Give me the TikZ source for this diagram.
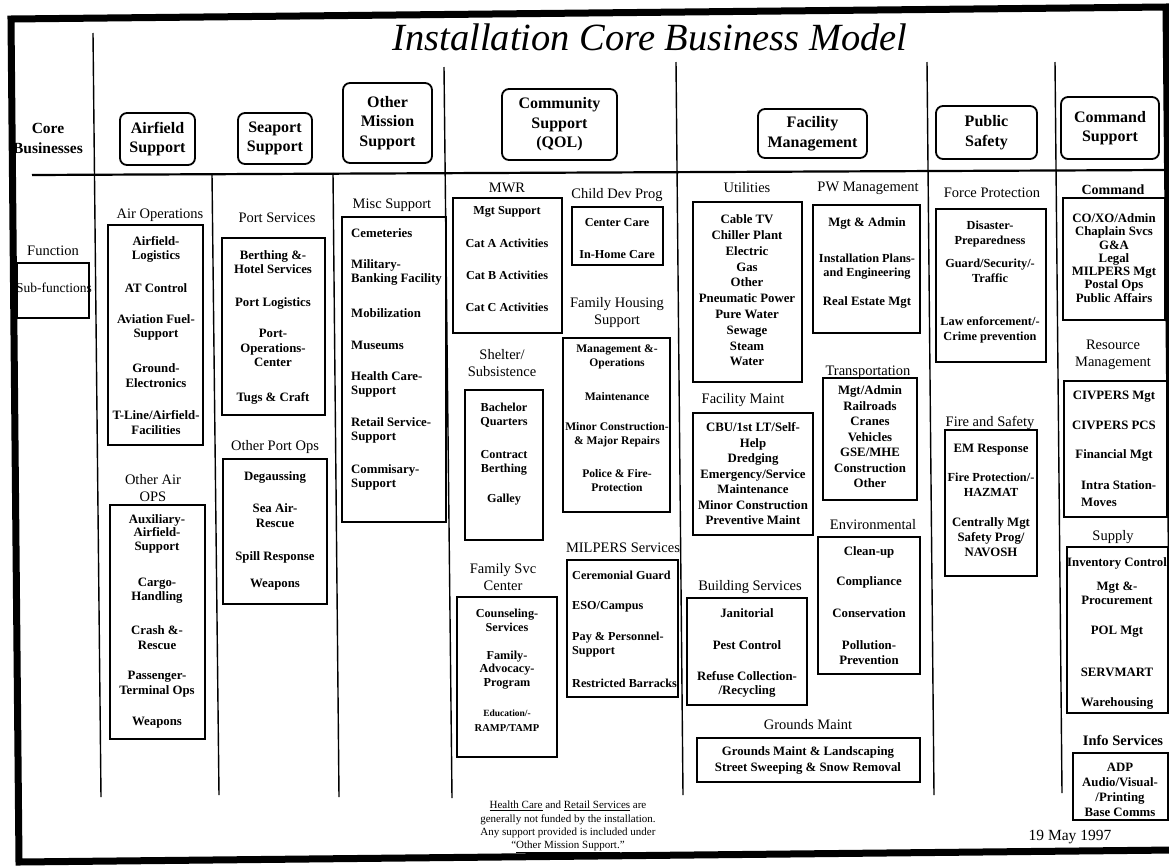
\documentclass[tikz,border=0pt]{standalone}
\usepackage{fontspec}
\setmainfont{Liberation Serif}
\usetikzlibrary{fit}
\newcommand{\myhf}{\fontsize{16}{19.5}\selectfont\bfseries}
\newcommand{\mylf}{\fontsize{14.5}{17}\selectfont}
\newcommand{\myif}{\fontsize{12.8}{14.5}\selectfont\bfseries}
\newcommand{\mysf}{\fontsize{12.2}{14}\selectfont\bfseries}
\tikzset{
  hdr/.style={draw, line width=1.8pt, rounded corners=7pt, font=\myhf, align=center, inner sep=0pt},
  sbox/.style={draw, line width=1.5pt, inner sep=0pt},
  lbl/.style={font=\mylf, align=center, inner sep=0pt},
  itm/.style={font=\myif, align=center, inner sep=0pt},
  itl/.style={font=\myif, align=left, inner sep=0pt, anchor=west},
  coll/.style={line width=1.4pt},
}
\begin{document}
\begin{tikzpicture}[x=1pt,y=-1pt]
\useasboundingbox (0,0) rectangle (1169,865);
\fill[white] (0,0) rectangle (1169,865);
% frame
\draw[line width=7pt, line join=miter] (11,19) -- (1166,7) -- (1174,850) -- (19,862) -- cycle;
% title
\node[font=\fontsize{38.5}{40}\selectfont\itshape, anchor=base, inner sep=0pt] (title) at (650,50) {Installation Core Business Model};
% grid lines
\draw[line width=2.2pt] (32,175) -- (1165,170);
\draw[coll] (93,33) -- (101,797);
\draw[coll] (212,174) -- (219,795);
\draw[coll] (333,173) -- (339,797);
\draw[coll] (444,67) -- (452,798);
\draw[coll] (676,62) -- (683,795);
\draw[coll] (927,62) -- (934,795);
\draw[coll] (1055,62) -- (1062,793);

% left column
\node[lbl, font=\fontsize{15.5}{20}\selectfont\bfseries] (core) at (48,138) {Core\\Businesses};
\node[lbl] (func) at (53,251) {Function};
\node[sbox, fit={(17,263) (89,318)}] (bsub) {};
\node[lbl, font=\fontsize{13.5}{15}\selectfont] (subf) at (54,288) {Sub-functions};

% Airfield
\node[hdr, minimum width=75pt, minimum height=52pt] (hair) at (157.5,139) {Airfield\\Support};
\node[lbl] (lairops) at (160,215) {Air Operations};
\node[sbox, fit={(108,225) (203,445)}] (bairops) {};
\node[itm] (a1) at (156,249.5) {Airfield-\\Logistics};
\node[itm] (a2) at (156,288) {AT Control};
\node[itm] (a3) at (156,327.5) {Aviation Fuel-\\Support};
\node[itm] (a4) at (156,375.5) {Ground-\\Electronics};
\node[itm] (a5) at (156,422.5) {T-Line/Airfield-\\Facilities};
\node[lbl] (loair) at (153,488) {Other Air\\OPS};
\node[sbox, fit={(110,505) (205,739)}] (boair) {};
\node[itm, font=\fontsize{12.8}{13.5}\selectfont\bfseries] (o1) at (157,533.5) {Auxiliary-\\Airfield-\\Support};
\node[itm] (o2) at (157,590.5) {Cargo-\\Handling};
\node[itm] (o3) at (157,637.5) {Crash \&-\\Rescue};
\node[itm] (o4) at (157,684) {Passenger-\\Terminal Ops};
\node[itm] (o5) at (157,723) {Weapons};

% Seaport
\node[hdr, minimum width=74pt, minimum height=51pt] (hsea) at (275,138.5) {Seaport\\Support};
\node[lbl] (lport) at (277,218) {Port Services};
\node[sbox, fit={(222,238) (325,415)}] (bport) {};
\node[itm] (p1) at (273,262) {Berthing \&-\\Hotel Services};
\node[itm] (p2) at (273,303) {Port Logistics};
\node[itm] (p3) at (273,348) {Port-\\Operations-\\Center};
\node[itm] (p4) at (273,398) {Tugs \& Craft};
\node[lbl] (loport) at (275,447) {Other Port Ops};
\node[sbox, fit={(223,459) (327,604)}] (boport) {};
\node[itm] (q1) at (275,477) {Degaussing};
\node[itm] (q2) at (275,515.5) {Sea Air-\\Rescue};
\node[itm] (q3) at (275,557) {Spill Response};
\node[itm] (q4) at (275,585) {Weapons};

% Other mission
\node[hdr, minimum width=89pt, minimum height=80pt] (hoth) at (387.5,123) {Other\\Mission\\Support};
\node[lbl] (lmisc) at (392,205) {Misc Support};
\node[sbox, fit={(342,217) (446,522)}] (bmisc) {};
\node[itl] (m1) at (351,233) {Cemeteries};
\node[itl] (m2) at (351,272.5) {Military-\\Banking Facility};
\node[itl] (m3) at (351,313) {Mobilization};
\node[itl] (m4) at (351,345) {Museums};
\node[itl] (m5) at (351,384.5) {Health Care-\\Support};
\node[itl] (m6) at (351,430.5) {Retail Service-\\Support};
\node[itl] (m7) at (351,477.5) {Commisary-\\Support};

% Community
\node[hdr, minimum width=115pt, minimum height=71pt] (hcom) at (559.5,124.5) {Community\\Support\\(QOL)};
\node[lbl] (lmwr) at (507,188) {MWR};
\node[sbox, fit={(453,198) (562,333)}] (bmwr) {};
\node[itm, font=\mysf] (w1) at (507,212) {Mgt Support};
\node[itm, font=\mysf] (w2) at (507,243) {Cat A Activities};
\node[itm, font=\mysf] (w3) at (507,275) {Cat B Activities};
\node[itm, font=\mysf] (w4) at (507,307) {Cat C Activities};
\node[lbl] (lchild) at (617,195) {Child Dev Prog};
\node[sbox, fit={(572,207) (663,265)}] (bchild) {};
\node[itm, font=\mysf] (c1) at (617,223) {Center Care};
\node[itm, font=\mysf] (c2) at (617,255) {In-Home Care};
\node[lbl] (lfam) at (617,313) {Family Housing\\Support};
\node[sbox, fit={(563,338) (670,512)}] (bfam) {};
\node[itm, font=\fontsize{11.6}{14}\selectfont\bfseries] (f1) at (617,356.5) {Management \&-\\Operations};
\node[itm, font=\fontsize{11.6}{14}\selectfont\bfseries] (f2) at (617,397) {Maintenance};
\node[itm, font=\fontsize{11.6}{14}\selectfont\bfseries] (f3) at (617,435) {Minor Construction-\\\& Major Repairs};
\node[itm, font=\fontsize{11.6}{14}\selectfont\bfseries] (f4) at (617,480.5) {Police \& Fire-\\Protection};
\node[lbl] (lshel) at (502,363) {Shelter/\\Subsistence};
\node[sbox, fit={(465,390) (543,540)}] (bshel) {};
\node[itm, font=\mysf] (s1) at (504,415) {Bachelor\\Quarters};
\node[itm, font=\mysf] (s2) at (504,462.5) {Contract\\Berthing};
\node[itm, font=\mysf] (s3) at (504,500) {Galley};
\node[lbl] (lfsvc) at (503,577) {Family Svc\\Center};
\node[sbox, fit={(457,597) (557,757)}] (bfsvc) {};
\node[itm, font=\mysf] (v1) at (507,620.5) {Counseling-\\Services};
\node[itm, font=\fontsize{12.2}{13.5}\selectfont\bfseries] (v2) at (507,670) {Family-\\Advocacy-\\Program};
\node[itm, font=\fontsize{10.5}{15}\selectfont\bfseries] (v3) at (507,720.5) {{\fontsize{9.5}{15}\selectfont Education/-}\\RAMP/TAMP};
\node[lbl] (lmil) at (623,548) {MILPERS Services};
\node[sbox, fit={(567,560) (678,697)}] (bmil) {};
\node[itl, font=\mysf] (x1) at (572,575) {Ceremonial Guard};
\node[itl, font=\mysf] (x2) at (572,607) {ESO/Campus};
\node[itl, font=\mysf] (x3) at (572,644.5) {Pay \& Personnel-\\Support};
\node[itl, font=\mysf] (x4) at (572,683) {Restricted Barracks};
\node[lbl, font=\fontsize{11}{13.3}\selectfont] (note) at (568,827) {\underline{Health Care} and \underline{Retail Services} are\\generally not funded by the installation.\\Any support provided is included under\\“\underline{Other Mission Support.}”};

% Facility
\node[hdr, minimum width=109pt, minimum height=49pt] (hfac) at (812.5,133.5) {Facility\\Management};
\node[lbl] (lutil) at (747,188) {Utilities};
\node[sbox, fit={(693,202) (802,382)}] (butil) {};
\node[itm, font=\fontsize{12.8}{15.8}\selectfont\bfseries] (u1) at (747,290.5) {Cable TV\\Chiller Plant\\Electric\\Gas\\Other\\Pneumatic Power\\Pure Water\\Sewage\\Steam\\Water};
\node[lbl] (lpw) at (868,188) {PW Management};
\node[sbox, fit={(813,205) (920,333)}] (bpw) {};
\node[itm] (pw1) at (867,223) {Mgt \& Admin};
\node[itm, font=\fontsize{12.3}{14}\selectfont\bfseries] (pw2) at (867,266.5) {Installation Plans-\\and Engineering};
\node[itm] (pw3) at (867,302) {Real Estate Mgt};
\node[lbl] (lfm) at (743,400) {Facility Maint};
\node[sbox, fit={(693,413) (813,535)}] (bfm) {};
\node[itm, font=\fontsize{12.8}{15.5}\selectfont\bfseries] (fm1) at (753,474) {CBU/1st LT/Self-\\Help\\Dredging\\Emergency/Service\\Maintenance\\Minor Construction\\Preventive Maint};
\node[lbl] (ltr) at (868,372) {Transportation};
\node[sbox, fit={(823,378) (917,500)}] (btr) {};
\node[itm, font=\fontsize{12.8}{15.5}\selectfont\bfseries] (tr1) at (870,437) {Mgt/Admin\\Railroads\\Cranes\\Vehicles\\GSE/MHE\\Construction\\Other};
\node[lbl] (lenv) at (873,525) {Environmental};
\node[sbox, fit={(818,537) (920,674)}] (benv) {};
\node[itm] (e1) at (869,552) {Clean-up};
\node[itm] (e2) at (869,582) {Compliance};
\node[itm] (e3) at (869,613) {Conservation};
\node[itm] (e4) at (869,652.5) {Pollution-\\Prevention};
\node[lbl] (lbld) at (750,587) {Building Services};
\node[sbox, fit={(687,598) (807,705)}] (bbld) {};
\node[itm] (b1) at (747,613) {Janitorial};
\node[itm] (b2) at (747,645) {Pest Control};
\node[itm] (b3) at (747,684.5) {Refuse Collection-\\/Recycling};
\node[lbl] (lgr) at (808,725) {Grounds Maint};
\node[sbox, fit={(697,738) (920,782)}] (bgr) {};
\node[itm, font=\fontsize{12.8}{16}\selectfont\bfseries] (g1) at (808,760) {Grounds Maint \& Landscaping\\Street Sweeping \& Snow Removal};

% Public safety
\node[hdr, minimum width=101pt, minimum height=53pt] (hpub) at (986.5,132.5) {Public\\Safety};
\node[lbl] (lforce) at (992,193) {Force Protection};
\node[sbox, fit={(936,209) (1046,362)}] (bforce) {};
\node[itm, font=\fontsize{12.3}{15}\selectfont\bfseries] (fp1) at (990,234.5) {Disaster-\\Preparedness};
\node[itm, font=\fontsize{12.3}{15}\selectfont\bfseries] (fp2) at (990,270.5) {Guard/Security/-\\Traffic};
\node[itm, font=\fontsize{12.3}{15}\selectfont\bfseries] (fp3) at (990,329.5) {Law enforcement/-\\Crime prevention};
\node[lbl] (lfire) at (990,423) {Fire and Safety};
\node[sbox, fit={(945,430) (1037,576)}] (bfire) {};
\node[itm] (fs1) at (991,450) {EM Response};
\node[itm, font=\fontsize{12.3}{15}\selectfont\bfseries] (fs2) at (991,484.5) {Fire Protection/-\\HAZMAT};
\node[itm, font=\fontsize{12.8}{15}\selectfont\bfseries] (fs3) at (991,537) {Centrally Mgt\\Safety Prog/\\NAVOSH};

% Command support
\node[hdr, minimum width=98pt, minimum height=62pt] (hcmd) at (1110,128) {Command\\Support};
\node[lbl, font=\fontsize{14}{17}\selectfont\bfseries] (lcmd) at (1113,190) {Command};
\node[sbox, fit={(1063,198) (1165,320)}] (bcmd) {};
\node[itm, font=\fontsize{12.8}{13.3}\selectfont\bfseries] (cm1) at (1114,258) {CO/XO/Admin\\Chaplain Svcs\\G\&A\\Legal\\MILPERS Mgt\\Postal Ops\\Public Affairs};
\node[lbl] (lres) at (1113,355) {Resource\\Management};
\node[sbox, fit={(1064,381) (1167,517)}] (bres) {};
\node[itm] (r1) at (1114,397) {CIVPERS Mgt};
\node[itm] (r2) at (1114,425) {CIVPERS PCS};
\node[itm] (r3) at (1114,455) {Financial Mgt};
\node[itl, font=\fontsize{12.8}{17}\selectfont\bfseries] (r4) at (1081,494) {Intra Station-\\Moves};
\node[lbl] (lsup) at (1113,537) {Supply};
\node[sbox, fit={(1067,547) (1168,713)}] (bsup) {};
\node[itm] (su1) at (1117,563) {Inventory Control};
\node[itm] (su2) at (1117,593.5) {Mgt \&-\\Procurement};
\node[itm] (su3) at (1117,632) {POL Mgt};
\node[itm] (su4) at (1117,672) {SERVMART};
\node[itm] (su5) at (1117,703) {Warehousing};
\node[lbl, font=\fontsize{14.5}{17}\selectfont\bfseries] (linfo) at (1123,740) {Info Services};
\node[sbox, fit={(1073,753) (1168,820)}] (binfo) {};
\node[itm, font=\fontsize{12.8}{15}\selectfont\bfseries] (i1) at (1120,789.5) {ADP\\Audio/Visual-\\/Printing\\Base Comms};

\node[lbl, font=\fontsize{15.5}{17}\selectfont] (date) at (1070,837) {19 May 1997};
\end{tikzpicture}
\end{document}
